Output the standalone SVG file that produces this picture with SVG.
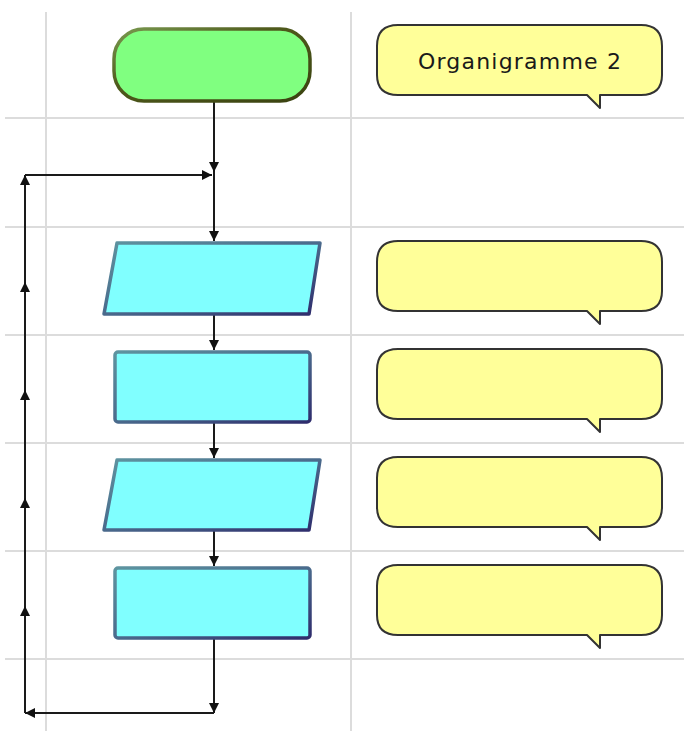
<svg xmlns="http://www.w3.org/2000/svg" width="684" height="742" viewBox="0 0 684 742">
<style>
.grid{stroke:#dcdcdc;stroke-width:2;fill:none}
.conn{stroke:#1a1a1a;stroke-width:2;fill:none;marker-end:url(#ah)}
.proc{fill:#80ffff;stroke:url(#bstroke);stroke-width:3.5;stroke-linejoin:round}
.call{fill:#ffff99;stroke:#333333;stroke-width:2;stroke-linejoin:round}
.lbl{font-family:"DejaVu Sans",Verdana,sans-serif;font-size:22px;letter-spacing:1.2px;fill:#1a1a1a}
</style>
<defs>
<marker id="ah" viewBox="0 0 10 10" refX="10" refY="5" markerWidth="10" markerHeight="10" markerUnits="userSpaceOnUse" orient="auto">
<path d="M0,0 L10,5 L0,10 z" fill="#111"/>
</marker>
<linearGradient id="bstroke" x1="0" y1="0" x2="1" y2="1">
<stop offset="0" stop-color="#5e94a0"/>
<stop offset="0.5" stop-color="#4a6a8c"/>
<stop offset="1" stop-color="#2e2c6c"/>
</linearGradient>
<linearGradient id="gstroke" x1="0" y1="0" x2="1" y2="1">
<stop offset="0" stop-color="#7a9a50"/>
<stop offset="0.4" stop-color="#4f5a1c"/>
<stop offset="1" stop-color="#3a4210"/>
</linearGradient>
</defs>
<rect width="684" height="742" fill="#ffffff"/>
<g id="grid">
<line class="grid" x1="46" y1="12" x2="46" y2="731"/>
<line class="grid" x1="351" y1="12" x2="351" y2="731"/>
<line class="grid" x1="5" y1="118" x2="684" y2="118"/>
<line class="grid" x1="5" y1="227" x2="684" y2="227"/>
<line class="grid" x1="5" y1="335" x2="684" y2="335"/>
<line class="grid" x1="5" y1="443" x2="684" y2="443"/>
<line class="grid" x1="5" y1="551" x2="684" y2="551"/>
<line class="grid" x1="5" y1="659" x2="684" y2="659"/>
</g>
<g id="connectors">
<line class="conn" x1="214" y1="101" x2="214" y2="172"/>
<line class="conn" x1="214" y1="172" x2="214" y2="241"/>
<line class="conn" x1="214" y1="315" x2="214" y2="350"/>
<line class="conn" x1="214" y1="423" x2="214" y2="458"/>
<line class="conn" x1="214" y1="531" x2="214" y2="566"/>
<line class="conn" x1="214" y1="639" x2="214" y2="713"/>
<line class="conn" x1="214" y1="713" x2="25" y2="713"/>
<line class="conn" x1="25" y1="713" x2="25" y2="606"/>
<line class="conn" x1="25" y1="606" x2="25" y2="498"/>
<line class="conn" x1="25" y1="498" x2="25" y2="390"/>
<line class="conn" x1="25" y1="390" x2="25" y2="282"/>
<line class="conn" x1="25" y1="282" x2="25" y2="175"/>
<line class="conn" x1="25" y1="175" x2="212" y2="175"/>
</g>
<g id="start">
<rect x="114" y="29" width="196" height="72" rx="30" fill="#80ff80" stroke="url(#gstroke)" stroke-width="3.5"/>
</g>
<g id="io1">
<path class="proc" d="M117,243 L320,243 L309,314 L104,314 Z"/>
</g>
<g id="proc1">
<rect class="proc" x="115" y="352" width="195" height="70" rx="3"/>
</g>
<g id="io2">
<path class="proc" d="M117,460 L320,460 L309,530 L104,530 Z"/>
</g>
<g id="proc2">
<rect class="proc" x="115" y="568" width="195" height="70" rx="3"/>
</g>
<g id="note1">
<path class="call" d="M398,25 L641,25 Q662,25 662,46 L662,75 Q662,95 641,95 L600,95 L600,108 L587,95 L398,95 Q377,95 377,75 L377,46 Q377,25 398,25 Z"/>
<text class="lbl" x="418" y="69">Organigramme 2</text>
</g>
<g id="note2">
<path class="call" d="M398,241 L641,241 Q662,241 662,262 L662,291 Q662,311 641,311 L600,311 L600,324 L587,311 L398,311 Q377,311 377,291 L377,262 Q377,241 398,241 Z"/>
</g>
<g id="note3">
<path class="call" d="M398,349 L641,349 Q662,349 662,370 L662,399 Q662,419 641,419 L600,419 L600,432 L587,419 L398,419 Q377,419 377,399 L377,370 Q377,349 398,349 Z"/>
</g>
<g id="note4">
<path class="call" d="M398,457 L641,457 Q662,457 662,478 L662,507 Q662,527 641,527 L600,527 L600,540 L587,527 L398,527 Q377,527 377,507 L377,478 Q377,457 398,457 Z"/>
</g>
<g id="note5">
<path class="call" d="M398,565 L641,565 Q662,565 662,586 L662,615 Q662,635 641,635 L600,635 L600,648 L587,635 L398,635 Q377,635 377,615 L377,586 Q377,565 398,565 Z"/>
</g>
</svg>
